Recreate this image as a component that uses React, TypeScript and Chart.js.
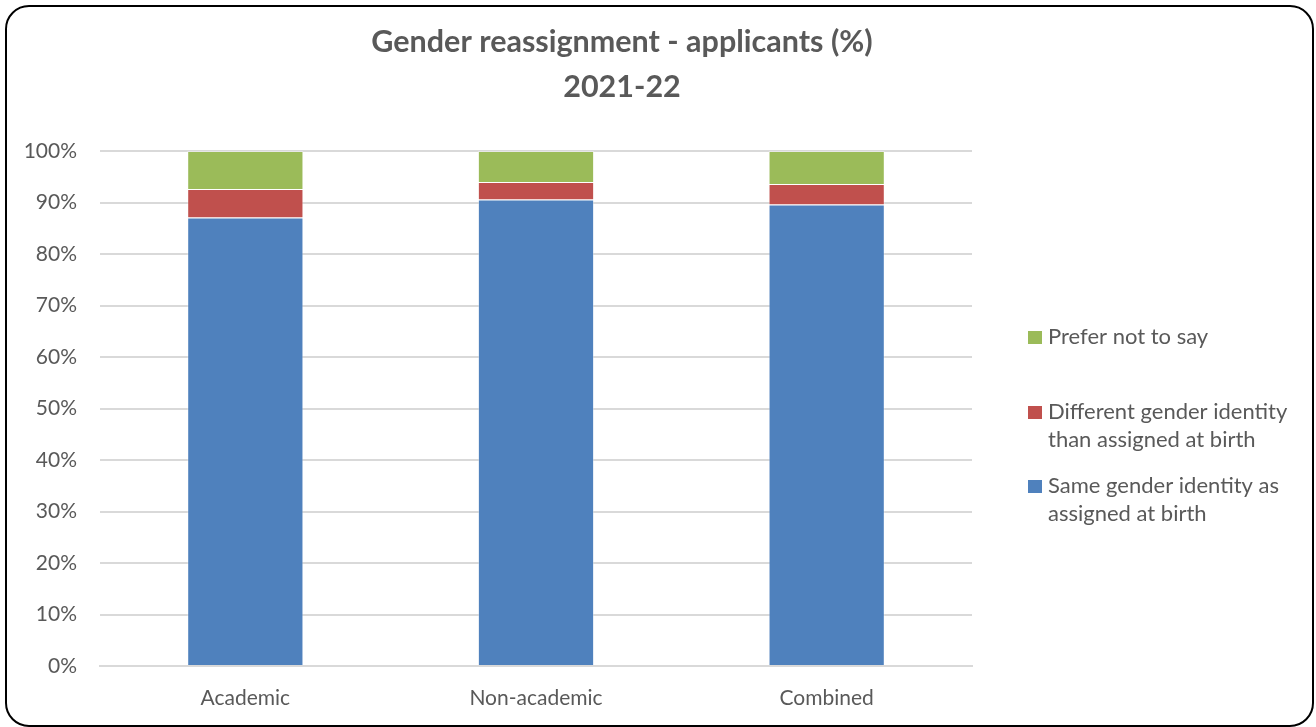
import React, { useEffect, useRef } from "react";
import { Chart, registerables } from "chart.js";

Chart.register(...registerables);

const categories = ["Academic", "Non-academic", "Combined"];
const sameIdentity = [87.1, 90.6, 89.6];
const differentIdentity = [5.5, 3.4, 4.0];
const preferNotToSay = [7.4, 6.0, 6.4];
const seriesLabels = [
  "Same gender identity as assigned at birth",
  "Different gender identity than assigned at birth",
  "Prefer not to say",
];
const legendLines = [
  ["Same gender identity as", "assigned at birth"],
  ["Different gender identity", "than assigned at birth"],
  ["Prefer not to say"],
];
const seriesColors = ["#4F81BD", "#C0504D", "#9BBB59"];
const titleLines = ["Gender reassignment - applicants (%)", "2021-22"];
const yTicks = [0, 10, 20, 30, 40, 50, 60, 70, 80, 90, 100];

const FONT = "Lato, 'Open Sans', sans-serif";
const TEXT = "#595959";

const decorPlugin = {
  id: "decor",
  afterDraw(chart: any) {
    const ctx = chart.ctx as CanvasRenderingContext2D;
    ctx.save();
    // title
    ctx.fillStyle = TEXT;
    ctx.textAlign = "center";
    ctx.textBaseline = "alphabetic";
    ctx.font = `bold 30.5px ${FONT}`;
    ctx.fillText(titleLines[0], 622, 52);
    ctx.fillText(titleLines[1], 622, 97);
    // legend (reversed order)
    const baselines = [[493, 521], [419, 447], [344]];
    ctx.textAlign = "left";
    ctx.font = `22px ${FONT}`;
    for (let i = 0; i < legendLines.length; i++) {
      const bl = baselines[i];
      ctx.fillStyle = seriesColors[i];
      ctx.fillRect(1028, bl[0] - 13, 14, 13);
      ctx.fillStyle = TEXT;
      legendLines[i].forEach((line, j) => ctx.fillText(line, 1048, bl[j]));
    }
    ctx.restore();
  },
};

export default function App() {
  const ref = useRef<HTMLCanvasElement>(null);
  useEffect(() => {
    if (!ref.current) return;
    const chart = new Chart(ref.current, {
      type: "bar",
      data: {
        labels: categories,
        datasets: [
          { label: seriesLabels[0], data: sameIdentity, backgroundColor: seriesColors[0] },
          { label: seriesLabels[1], data: differentIdentity, backgroundColor: seriesColors[1] },
          { label: seriesLabels[2], data: preferNotToSay, backgroundColor: seriesColors[2] },
        ].map((d) => ({
          ...d,
          borderColor: "rgba(255,255,255,0.35)",
          borderWidth: 1,
          barPercentage: 0.4,
          categoryPercentage: 1,
        })),
      },
      options: {
        responsive: false,
        animation: false,
        layout: { padding: { left: 0, right: 344, top: 151, bottom: 0 } },
        plugins: {
          legend: { display: false },
          title: { display: false },
          tooltip: { enabled: false },
        },
        scales: {
          x: {
            stacked: true,
            grid: { display: false, drawTicks: false },
            border: { display: true, color: "#D9D9D9", width: 2 },
            ticks: { color: TEXT, font: { family: FONT, size: 21 }, padding: 20 },
            afterFit: (s: any) => {
              s.height = 61;
            },
          },
          y: {
            stacked: true,
            min: 0,
            max: 100,
            afterBuildTicks: (s: any) => {
              s.ticks = yTicks.map((v) => ({ value: v }));
            },
            grid: { color: "#D9D9D9", lineWidth: 2, drawTicks: false },
            border: { display: false },
            ticks: {
              color: TEXT,
              font: { family: FONT, size: 21 },
              padding: 23,
              callback: (v: any) => `${v}%`,
            },
            afterFit: (s: any) => {
              s.width = 100;
            },
          },
        },
      },
      plugins: [decorPlugin],
    });
    return () => chart.destroy();
  }, []);
  return (
    <div style={{ position: "absolute", left: 0, top: 0, width: 1316, height: 727, background: "#fff" }}>
      <canvas ref={ref} width={1316} height={727} style={{ display: "block" }} />
      <div
        style={{
          position: "absolute",
          left: 5,
          top: 5,
          width: 1305,
          height: 718,
          border: "2px solid #000",
          borderRadius: 24,
          pointerEvents: "none",
        }}
      />
    </div>
  );
}
